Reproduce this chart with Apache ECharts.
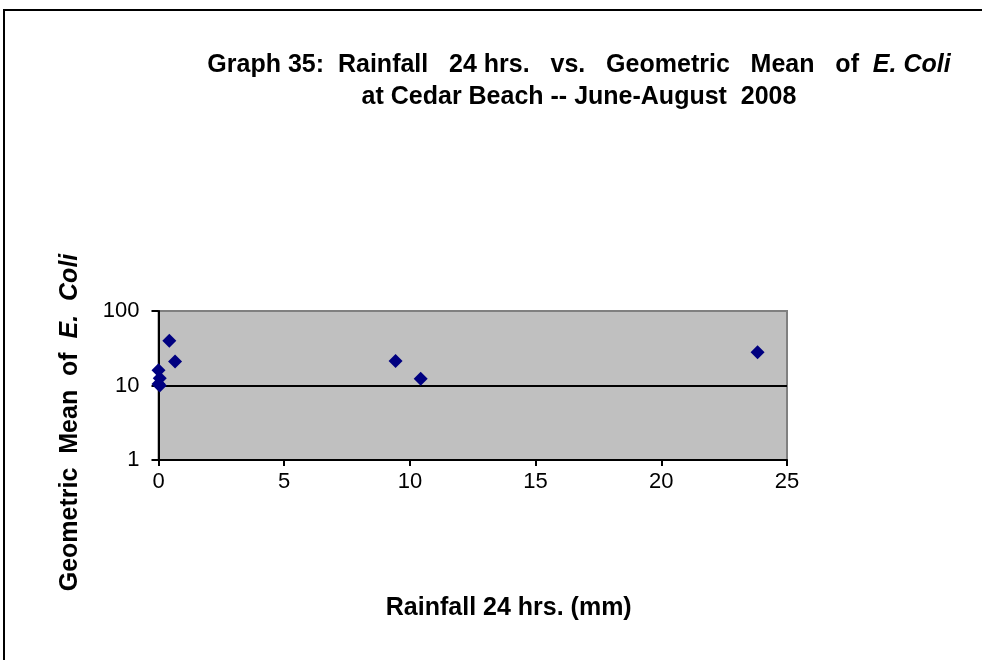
<!DOCTYPE html>
<html>
<head>
<meta charset="utf-8">
<script src="https://cdn.jsdelivr.net/npm/echarts@6/dist/echarts.min.js"></script>
<style>
html,body{margin:0;padding:0;background:#fff;}
#chart{width:982px;height:660px;}
</style>
</head>
<body>
<div id="chart"></div>
<script>
// Data
const rainfall = [0, 0.05, 0, 0.05, 0.43, 0.66, 9.43, 10.43, 23.83];
const geoMean  = [16, 12.5, 10.5, 10, 40, 21, 21.3, 12.3, 28];
const xTicks = [0, 5, 10, 15, 20, 25];
const yTicks = [1, 10, 100];

const points = rainfall.map((x, i) => [x, geoMean[i]]);
const font = '"Liberation Sans", Arial, sans-serif';

const chart = echarts.init(document.getElementById('chart'), null, {renderer: 'canvas'});
chart.setOption({
  backgroundColor: '#ffffff',
  animation: false,
  graphic: [{
    type: 'rect',
    shape: {x: 4, y: 10, width: 1100, height: 800},
    style: {fill: 'none', stroke: '#000', lineWidth: 2},
    z: -1
  }],
  title: {
    text: '{b|Graph 35:  Rainfall   24 hrs.   vs.   Geometric   Mean   of  }{i|E. Coli}\n{b|at Cedar Beach -- June-August  2008}',
    left: 574,
    top: 44,
    textAlign: 'center',
    textStyle: {
      fontFamily: font,
      fontSize: 25,
      fontWeight: 'bold',
      color: '#000',
      lineHeight: 32,
      rich: {
        b: {fontFamily: font, fontSize: 25, fontWeight: 'bold', color: '#000', lineHeight: 32},
        i: {fontFamily: font, fontSize: 25, fontWeight: 'bold', fontStyle: 'italic', color: '#000', lineHeight: 32}
      }
    }
  },
  grid: {
    left: 158.5, top: 311, right: 195, bottom: 200,
    show: true,
    backgroundColor: '#C0C0C0',
    borderColor: '#808080',
    borderWidth: 2
  },
  xAxis: {
    type: 'value',
    min: xTicks[0],
    max: xTicks[xTicks.length - 1],
    interval: 5,
    name: 'Rainfall 24 hrs. (mm)',
    nameLocation: 'middle',
    nameGap: 136,
    nameTextStyle: {fontFamily: font, fontSize: 25, fontWeight: 'bold', color: '#000', padding: [0, 0, 0, 72]},
    axisLine: {show: true, lineStyle: {color: '#000', width: 2}},
    axisTick: {show: true, inside: false, length: 6, lineStyle: {color: '#000', width: 2}},
    axisLabel: {fontFamily: font, fontSize: 22, color: '#000', margin: 11},
    splitLine: {show: false}
  },
  yAxis: {
    type: 'log',
    logBase: 10,
    min: yTicks[0],
    max: yTicks[yTicks.length - 1],
    name: '{b|Geometric  Mean  of  }{i|E.  Coli}',
    nameLocation: 'middle',
    nameGap: 76,
    nameRotate: 90,
    nameTextStyle: {
      fontFamily: font, fontSize: 25, fontWeight: 'bold', color: '#000',
      padding: [0, 74, 0, 0],
      rich: {
        b: {fontFamily: font, fontSize: 25, fontWeight: 'bold', color: '#000'},
        i: {fontFamily: font, fontSize: 25, fontWeight: 'bold', fontStyle: 'italic', color: '#000'}
      }
    },
    axisLine: {show: true, lineStyle: {color: '#000', width: 2}},
    axisTick: {show: true, inside: false, length: 7, lineStyle: {color: '#000', width: 2}},
    axisLabel: {fontFamily: font, fontSize: 22, color: '#000', margin: 19},
    splitLine: {show: true, lineStyle: {color: ['#000', '#000', '#808080'], width: 2}}
  },
  series: [{
    type: 'scatter',
    data: points,
    symbol: 'diamond',
    symbolSize: 14,
    itemStyle: {color: '#000080', opacity: 1}
  }]
});
</script>
</body>
</html>
